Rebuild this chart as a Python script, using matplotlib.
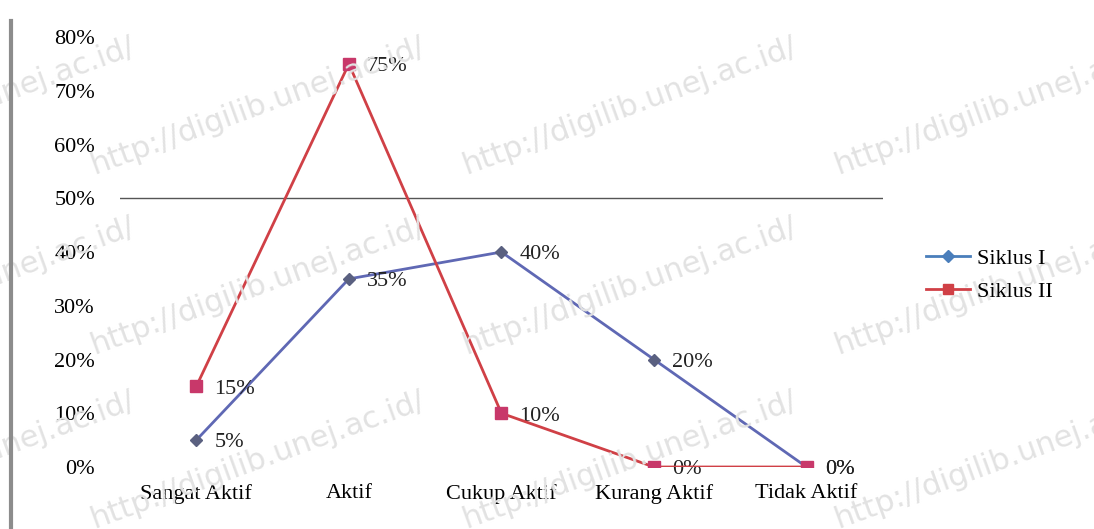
import matplotlib
matplotlib.use("Agg")
import matplotlib.pyplot as plt
from matplotlib.lines import Line2D

kategori = ["Sangat Aktif", "Aktif", "Cukup Aktif", "Kurang Aktif", "Tidak Aktif"]
siklus1 = [5, 35, 40, 20, 0]
siklus2 = [15, 75, 10, 0, 0]
yticks = [0, 10, 20, 30, 40, 50, 60, 70, 80]

plt.rcParams['font.family'] = ['Liberation Serif', 'DejaVu Serif']

fig = plt.figure(figsize=(10.94, 5.29), dpi=100)
ax = fig.add_axes([0.1097, 0.1172, 0.6973, 0.8128])

# watermark
wm = "http://digilib.unej.ac.id/"
for yc in [0.80, 0.46, 0.13]:
    for xc in [-0.03, 0.235, 0.575, 0.915]:
        fig.text(xc, yc, wm, fontsize=22, color='#e2e2e2', rotation=20,
                 ha='center', va='center', family='DejaVu Sans', zorder=0)

x = range(len(kategori))
ax.plot(x, siklus1, color='#5f68b4', lw=2, marker='D', ms=6,
        mfc='#5a6080', mec='#5a6080', label='Siklus I', zorder=3)
ax.plot(x, siklus2, color='#d04046', lw=2, marker='s', ms=9,
        mfc='#c8386a', mec='#c8386a', label='Siklus II', zorder=4)

for i, v in enumerate(siklus1):
    ax.annotate(f"{v}%", (i, v), xytext=(13, -2), textcoords='offset points',
                fontsize=16, va='center', ha='left', color='#222222')
for i, v in enumerate(siklus2):
    ax.annotate(f"{v}%", (i, v), xytext=(13, -2), textcoords='offset points',
                fontsize=16, va='center', ha='left', color='#222222')

ax.axhline(50, color='#555555', lw=1, zorder=1)
ax.set_xlim(-0.5, len(kategori) - 0.5)
ax.set_ylim(0, 80)
ax.set_yticks(yticks)
ax.set_yticklabels([f"{t}%" for t in yticks], fontsize=16)
ax.set_xticks(list(x))
ax.set_xticklabels(kategori, fontsize=16)
ax.tick_params(axis='y', length=0, pad=18)
ax.tick_params(axis='x', length=0, pad=12)
for s in ax.spines.values():
    s.set_visible(False)
ax.patch.set_alpha(0)

handles = [Line2D([], [], color='#4a7ebb', lw=2, marker='D', ms=6),
           Line2D([], [], color='#d04046', lw=2, marker='s', ms=7)]
fig.legend(handles, ['Siklus I', 'Siklus II'], loc='center left',
           bbox_to_anchor=(0.828, 0.48), frameon=False, fontsize=16,
           handlelength=2.0, handletextpad=0.3, labelspacing=0.55)

# page border on the left
fig.add_artist(Line2D([0.01, 0.01], [0.0, 0.96], transform=fig.transFigure,
                      color='#8c8c8c', lw=3))

fig.savefig("out.png", dpi=100)
